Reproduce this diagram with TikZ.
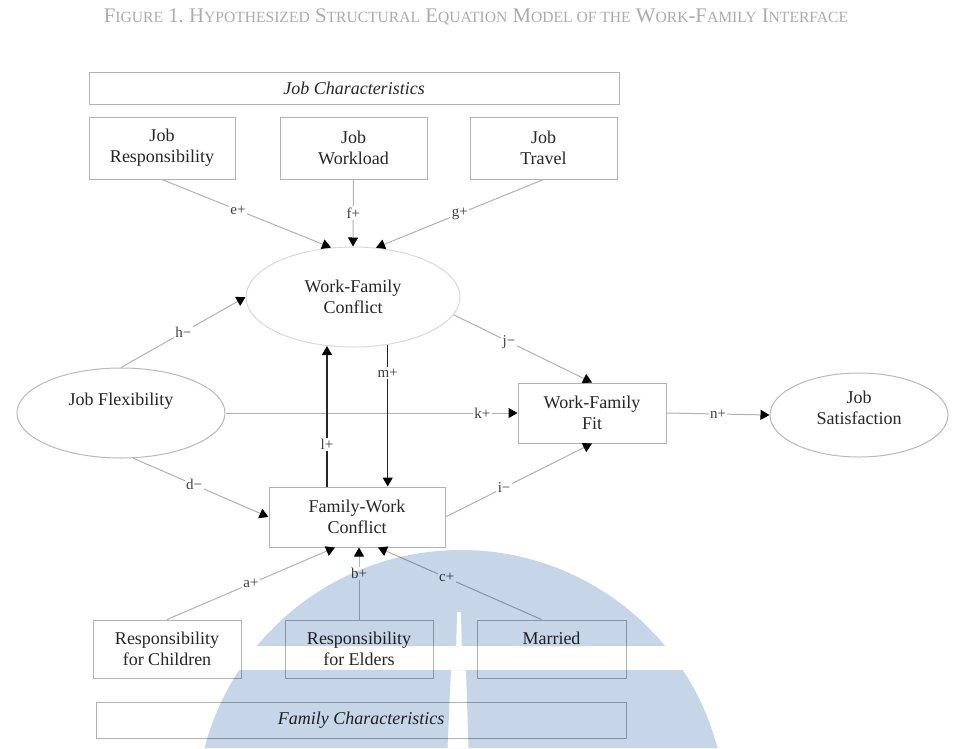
\documentclass[tikz,border=0pt]{standalone}
\usepackage{fontspec}
\setmainfont{Liberation Serif}
\usetikzlibrary{arrows.meta,shapes.geometric,calc}

\definecolor{wm}{RGB}{199,213,233}
\newcommand\smallcapsof[1]{{\fontsize{15.6}{18}\selectfont #1}}

\begin{document}
\begin{tikzpicture}[x=1pt,y=-1pt,
  every node/.style={font=\fontsize{18}{21}\selectfont, text=black!85},
  box/.style={draw=gray!60, line width=1pt, rectangle, inner sep=0pt, align=center},
  oval/.style={draw=gray!55, line width=1pt, ellipse, inner sep=0pt, align=center},
  link/.style={draw=gray!60, line width=1pt, -{Triangle[length=9pt,width=10pt,color=black]}},
  strong/.style={draw=black!85, line width=1.2pt, -{Triangle[length=9pt,width=10pt,color=black]}},
  coef/.style={font=\fontsize{15}{17}\selectfont, fill=white, inner sep=1.5pt, text=black!75},
  ]
\useasboundingbox (0,0) rectangle (953,748);
\fill[white] (0,0) rectangle (953,748);

% title
\node[font=\fontsize{20.8}{24}\selectfont, text=gray!65] (title) at (476,17)
  {F\smallcapsof{IGURE} 1.\ H\smallcapsof{YPOTHESIZED} S\smallcapsof{TRUCTURAL} E\smallcapsof{QUATION} M\smallcapsof{ODEL OF THE} W\smallcapsof{ORK}-F\smallcapsof{AMILY} I\smallcapsof{NTERFACE}};

% job characteristics
\node[box, minimum width=530, minimum height=32] (jc) at (354,88) {\itshape Job Characteristics};
\node[box, minimum width=146, minimum height=62] (jr) at (162,148) {Job\\Responsibility};
\node[box, minimum width=147, minimum height=62] (jw) at (353.5,148) {Job\\Workload};
\node[box, minimum width=147, minimum height=62] (jt) at (543.5,148) {Job\\Travel};

% latent constructs
\node[oval, draw=gray!30, minimum width=214, minimum height=100] (wfc) at (353,297) {Work-Family\\Conflict};
\node[oval, minimum width=208, minimum height=90] (jf) at (121,413) {\raisebox{8pt}[0pt][0pt]{Job Flexibility}};
\node[box, minimum width=148, minimum height=60] (wff) at (592,413) {Work-Family\\Fit};
\node[oval, minimum width=178, minimum height=84] (js) at (859,415)
  {\raisebox{5pt}[\height][\depth]{\begin{tabular}{@{}c@{}}Job\\Satisfaction\end{tabular}}};
\node[box, minimum width=176, minimum height=60] (fwc) at (357,517) {Family-Work\\Conflict};

% family characteristics
\node[box, minimum width=148, minimum height=58] (rc) at (167,649) {Responsibility\\for Children};
\node[box, minimum width=148, minimum height=58] (re) at (359,649) {Responsibility\\for Elders};
\node[box, minimum width=149, minimum height=58] (mar) at (551.5,649) {Married\\\mbox{}};
\node[box, minimum width=530, minimum height=36] (fc) at (361,720) {\itshape Family Characteristics};

% paths into work-family conflict
\draw[link] (jr.south) -- (wfc.114) node[coef, pos=0.45] {e+};
\draw[link] (jw.south) -- (wfc.north) node[coef, pos=0.5] {f+};
\draw[link] (jt.south) -- (wfc.65) node[coef, pos=0.5] {g+};
\draw[link] (jf.north) -- (wfc.west) node[coef, pos=0.5] {h−};

% job flexibility to family-work conflict and fit
\draw[link] (jf.-75) -- (fwc.west) node[coef, pos=0.45] {d−};
\draw[link] (jf.east) -- (wff.west) node[coef, pos=0.88] {k+};

% conflict to fit, fit to satisfaction
\draw[link] (wfc.-10) -- (wff.north) node[coef, pos=0.4] {j−};
\draw[link] (fwc.east) -- (wff.south) node[coef, pos=0.4] {i−};
\draw[link] (wff.east) -- (js.west) node[coef, pos=0.5] {n+};

% reciprocal conflict paths
\draw[strong] (fwc.north -| wfc.242) -- (wfc.242) node[coef, pos=0.3] {l+};
\draw[strong] (wfc.306) -- (wfc.306 |- fwc.north) node[coef, pos=0.2] {m+};

% family characteristics into family-work conflict
\draw[link] (rc.north) -- ($(fwc.south)+(-22,0)$) node[coef, pos=0.5] {a+};
\draw[link] (re.north) -- (re.north |- fwc.south) node[coef, pos=0.64] {b+};
\draw[link] ($(mar.north)+(-10,0)$) -- ($(fwc.south)+(21,0)$) node[coef, pos=0.58] {c+};

% emblem printed over the page
\begin{scope}[blend mode=multiply]
  \clip (0,0) rectangle (953,748);
  \clip (461,815) circle[radius=265];
  \fill[wm, even odd rule] (0,0) rectangle (953,748)
    (0,646) rectangle (953,670)
    (457,612) -- (461,612) -- (461.8,646) -- (456.2,646) -- cycle
    (451,670) -- (466,670) -- (468.5,748) -- (447.5,748) -- cycle;
\end{scope}
\end{tikzpicture}
\end{document}
